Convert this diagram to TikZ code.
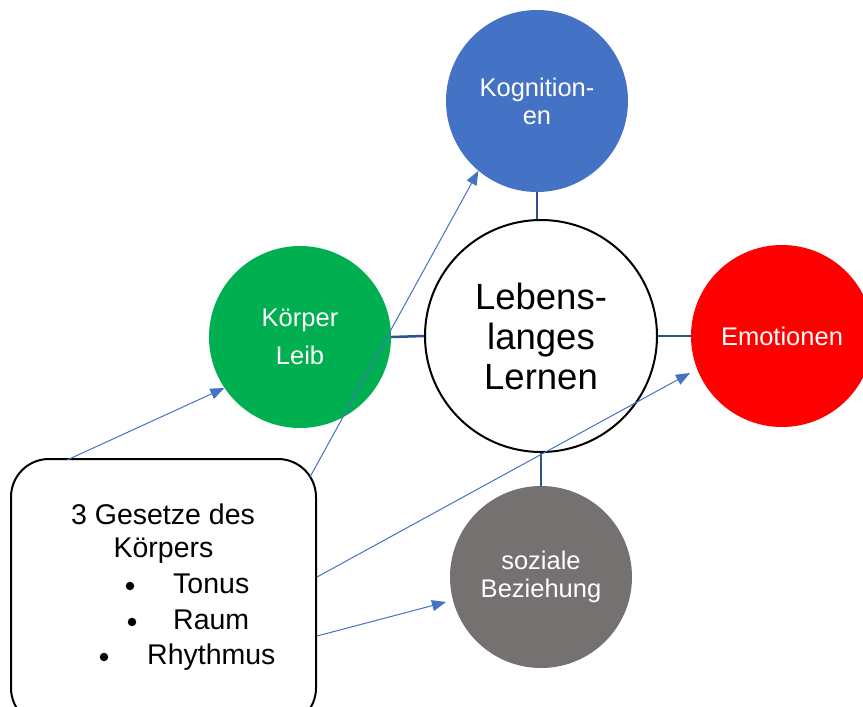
\documentclass[tikz,border=0pt]{standalone}
\usepackage{fontspec}
\setmainfont{Liberation Sans}
\usetikzlibrary{arrows.meta}
\definecolor{kogblue}{HTML}{4472C4}
\definecolor{koegreen}{HTML}{00B050}
\definecolor{emored}{HTML}{FF0000}
\definecolor{sozgray}{HTML}{767171}
\definecolor{linkblue}{HTML}{2F528F}
\definecolor{arrowblue}{HTML}{4472C4}
\begin{document}
\begin{tikzpicture}[x=1pt,y=-1pt,
  bubble/.style={circle, minimum size=182pt, inner sep=0pt, text=white, align=center, font=\fontsize{25.5}{28}\selectfont},
  core/.style={circle, draw=black, line width=2pt, minimum size=232pt, inner sep=0pt, align=center, font=\fontsize{36.5}{40}\selectfont},
  link/.style={draw=linkblue, line width=2.5pt},
  feed/.style={draw=arrowblue, line width=1pt, -{Triangle[length=14pt,width=11pt]}},
  lawbox/.style={draw=black, line width=2pt, rounded corners=38pt, minimum width=305pt, minimum height=267pt, inner sep=0pt},
  boxtext/.style={font=\fontsize{28.5}{34}\selectfont, inner sep=0pt},
  bulletdot/.style={circle, fill=black, inner sep=0pt, minimum size=8.5pt}
]
\useasboundingbox (0,0) rectangle (863,707);
\clip (0,0) rectangle (863,707);
\fill[white] (0,0) rectangle (863,707);

% circles
\node[bubble, fill=kogblue] (kog) at (537,101) {Kognition-\\en};
\node[bubble, fill=koegreen] (koe) at (300,337) {Körper\\[10pt]Leib};
\node[bubble, fill=emored] (emo) at (782,336) {Emotionen};
\node[bubble, fill=sozgray] (soz) at (541,577) {soziale\\Beziehung};
\node[core] (core) at (541,336) {Lebens-\\langes\\Lernen};

% links to the core
\draw[link] (kog.south) -- (kog.south |- core.north);
\draw[link] (koe.east) -- (core.west);
\draw[link] (core.east) -- (emo.west);
\draw[link] (soz.north) -- (soz.north |- core.south);

% box
\node[lawbox] (box) at (163.5,592.5) {};
\node[boxtext, anchor=base] (g1) at (163,524) {3 Gesetze des};
\node[boxtext, anchor=base] (g2) at (163.5,557) {Körpers};
\node[boxtext, anchor=base west] (t1) at (173,593) {Tonus};
\node[boxtext, anchor=base west] (t2) at (173,629) {Raum};
\node[boxtext, anchor=base west] (t3) at (147,664) {Rhythmus};
\node[bulletdot] (d1) at (130,586) {};
\node[bulletdot] (d2) at (132,622) {};
\node[bulletdot] (d3) at (104,657) {};

% arrow start points on the box
\coordinate (s1) at (67,460);
\coordinate (s2) at (310,477);
\coordinate (s3) at (317,577);
\coordinate (s4) at (317,636);
% arrow tips
\coordinate (e3) at (690,373);
\coordinate (e4) at (446,602);

\draw[feed] (s1) -- (koe.214.6);
\draw[feed] (s2) -- (kog.230.8);
\draw[feed] (s3) -- (e3);
\draw[feed] (s4) -- (e4);
\end{tikzpicture}
\end{document}
